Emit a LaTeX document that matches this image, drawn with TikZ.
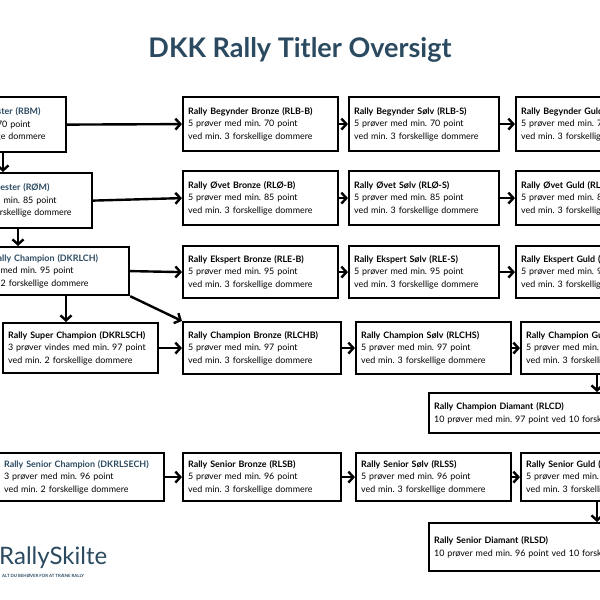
\documentclass[tikz,border=0pt]{standalone}
\usepackage{fontspec}
\setmainfont{Lato}
\usetikzlibrary{arrows.meta}
\definecolor{hd}{HTML}{2B4A60}
\tikzset{
 box/.style={draw, line width=2.2pt, anchor=north west, align=left, inner xsep=5pt, inner ysep=3pt, text width=#1-10pt, font=\frenchspacing\fontsize{8.9}{12.6}\selectfont},
 arr/.style={line width=2.4pt, -{Straight Barb[length=5pt,width=11pt,line width=2.4pt]}},
}
\newcommand{\hdr}[1]{{\bfseries\color{black}#1}}
\newcommand{\hdb}[1]{{\bfseries\color{hd}#1}}
\begin{document}
\begin{tikzpicture}[x=1pt,y=-1pt]
\useasboundingbox (0,0) rectangle (600,600);
\clip (0,0) rectangle (600,600);
\node[font=\bfseries\fontsize{27}{32}\selectfont, text=hd] (title) at (300,50) {DKK Rally Titler Oversigt};
% left column
\node[box=150, minimum height=55] (rbm) at (-85,96) {\hdb{Rally Begynder Mester (RBM)}\\3 prøver med min. 70 point\\ved min. 2 forskellige dommere};
\node[box=150, minimum height=55] (rom) at (-59,172) {\hdb{Rally Øvet Mester (RØM)}\\3 prøver med min. 85 point\\ved min. 2 forskellige dommere};
\node[box=170, minimum height=48] (dkrlch) at (-42,246) {\hdb{Dansk Rally Champion (DKRLCH)}\\3 prøver med min. 95 point\\ved min. 2 forskellige dommere};
\node[box=155, minimum height=50] (dkrlsch) at (2,322) {\hdr{Rally Super Champion (DKRLSCH)}\\3 prøver vindes med min. 97 point\\ved min. 2 forskellige dommere};
\node[box=165, minimum height=48] (dkrlsech) at (-2,452) {\hdb{Rally Senior Champion (DKRLSECH)}\\3 prøver med min. 96 point\\ved min. 2 forskellige dommere};
% row 1
\node[box=155, minimum height=54] (rlbb) at (182,96) {\hdr{Rally Begynder Bronze (RLB-B)}\\5 prøver med min. 70 point\\ved min. 3 forskellige dommere};
\node[box=150, minimum height=54] (rlbs) at (348,96) {\hdr{Rally Begynder Sølv (RLB-S)}\\5 prøver med min. 70 point\\ved min. 3 forskellige dommere};
\node[box=150, minimum height=54] (rlbg) at (515,96) {\hdr{Rally Begynder Guld (RLB-G)}\\5 prøver med min. 70 point\\ved min. 3 forskellige dommere};
% row 2
\node[box=155, minimum height=54] (rlob) at (182,170) {\hdr{Rally Øvet Bronze (RLØ-B)}\\5 prøver med min. 85 point\\ved min. 3 forskellige dommere};
\node[box=150, minimum height=54] (rlos) at (348,170) {\hdr{Rally Øvet Sølv (RLØ-S)}\\5 prøver med min. 85 point\\ved min. 3 forskellige dommere};
\node[box=150, minimum height=54] (rlog) at (515,170) {\hdr{Rally Øvet Guld (RLØ-G)}\\5 prøver med min. 85 point\\ved min. 3 forskellige dommere};
% row 3
\node[box=155, minimum height=52] (rleb) at (182,245) {\hdr{Rally Ekspert Bronze (RLE-B)}\\5 prøver med min. 95 point\\ved min. 3 forskellige dommere};
\node[box=150, minimum height=52] (rles) at (348,245) {\hdr{Rally Ekspert Sølv (RLE-S)}\\5 prøver med min. 95 point\\ved min. 3 forskellige dommere};
\node[box=150, minimum height=52] (rleg) at (515,245) {\hdr{Rally Ekspert Guld (RLE-G)}\\5 prøver med min. 95 point\\ved min. 3 forskellige dommere};
% row 4
\node[box=158, minimum height=52] (rlchb) at (182,321) {\hdr{Rally Champion Bronze (RLCHB)}\\5 prøver med min. 97 point\\ved min. 3 forskellige dommere};
\node[box=155, minimum height=52] (rlchs) at (355,321) {\hdr{Rally Champion Sølv (RLCHS)}\\5 prøver med min. 97 point\\ved min. 3 forskellige dommere};
\node[box=155, minimum height=52] (rlchg) at (520,321) {\hdr{Rally Champion Guld (RLCHG)}\\5 prøver med min. 97 point\\ved min. 3 forskellige dommere};
\node[box=260, minimum height=40] (rlcd) at (428,392) {\hdr{Rally Champion Diamant (RLCD)}\\10 prøver med min. 97 point ved 10 forskellige dommere};
% row senior
\node[box=158, minimum height=48] (rlsb) at (182,452) {\hdr{Rally Senior Bronze (RLSB)}\\5 prøver med min. 96 point\\ved min. 3 forskellige dommere};
\node[box=155, minimum height=48] (rlss) at (355,452) {\hdr{Rally Senior Sølv (RLSS)}\\5 prøver med min. 96 point\\ved min. 3 forskellige dommere};
\node[box=155, minimum height=48] (rlsg) at (520,452) {\hdr{Rally Senior Guld (RLSG)}\\5 prøver med min. 96 point\\ved min. 3 forskellige dommere};
\node[box=260, minimum height=48] (rlsd) at (428,522) {\hdr{Rally Senior Diamant (RLSD)}\\10 prøver med min. 96 point ved 10 forskellige dommere};
% logo
\node[anchor=west, text=hd, font=\fontsize{24}{28}\selectfont, inner sep=0pt] (logo) at (-1,558) {RallySkilte};
\node[anchor=north west, text=hd, font=\bfseries\fontsize{4.3}{5}\selectfont, inner sep=0pt] (tag) at (2,574) {ALT DU BEHØVER FOR AT TRÆNE RALLY};
% arrows
\draw[arr] (rbm.east) -- (rlbb.west);
\draw[arr] (rlbb.east) -- (rlbs.west);
\draw[arr] (rlbs.east) -- (rlbg.west);
\draw[arr] (rom.east) -- (rlob.west);
\draw[arr] (rlob.east) -- (rlos.west);
\draw[arr] (rlos.east) -- (rlog.west);
\draw[arr] (dkrlch.east) -- (rleb.west);
\draw[arr] (rleb.east) -- (rles.west);
\draw[arr] (rles.east) -- (rleg.west);
\draw[arr] (dkrlsch.east) -- (rlchb.west);
\draw[arr] (rlchb.east) -- (rlchs.west);
\draw[arr] (rlchs.east) -- (rlchg.west);
\draw[arr] (dkrlsech.east) -- (rlsb.west);
\draw[arr] (rlsb.east) -- (rlss.west);
\draw[arr] (rlss.east) -- (rlsg.west);
\draw[arr] (rbm.south -| 3,0) -- (rom.north -| 3,0);
\draw[arr] (rom.south -| 18,0) -- (dkrlch.north -| 18,0);
\draw[arr] (dkrlch.south -| 66,0) -- (dkrlsch.north -| 66,0);
\draw[arr] (dkrlch.south east) -- (rlchb.north west);
\draw[arr] (rlchg.south -| 597,0) -- (rlcd.north -| 597,0);
\draw[arr] (rlsg.south -| 597,0) -- (rlsd.north -| 597,0);
\end{tikzpicture}
\end{document}
